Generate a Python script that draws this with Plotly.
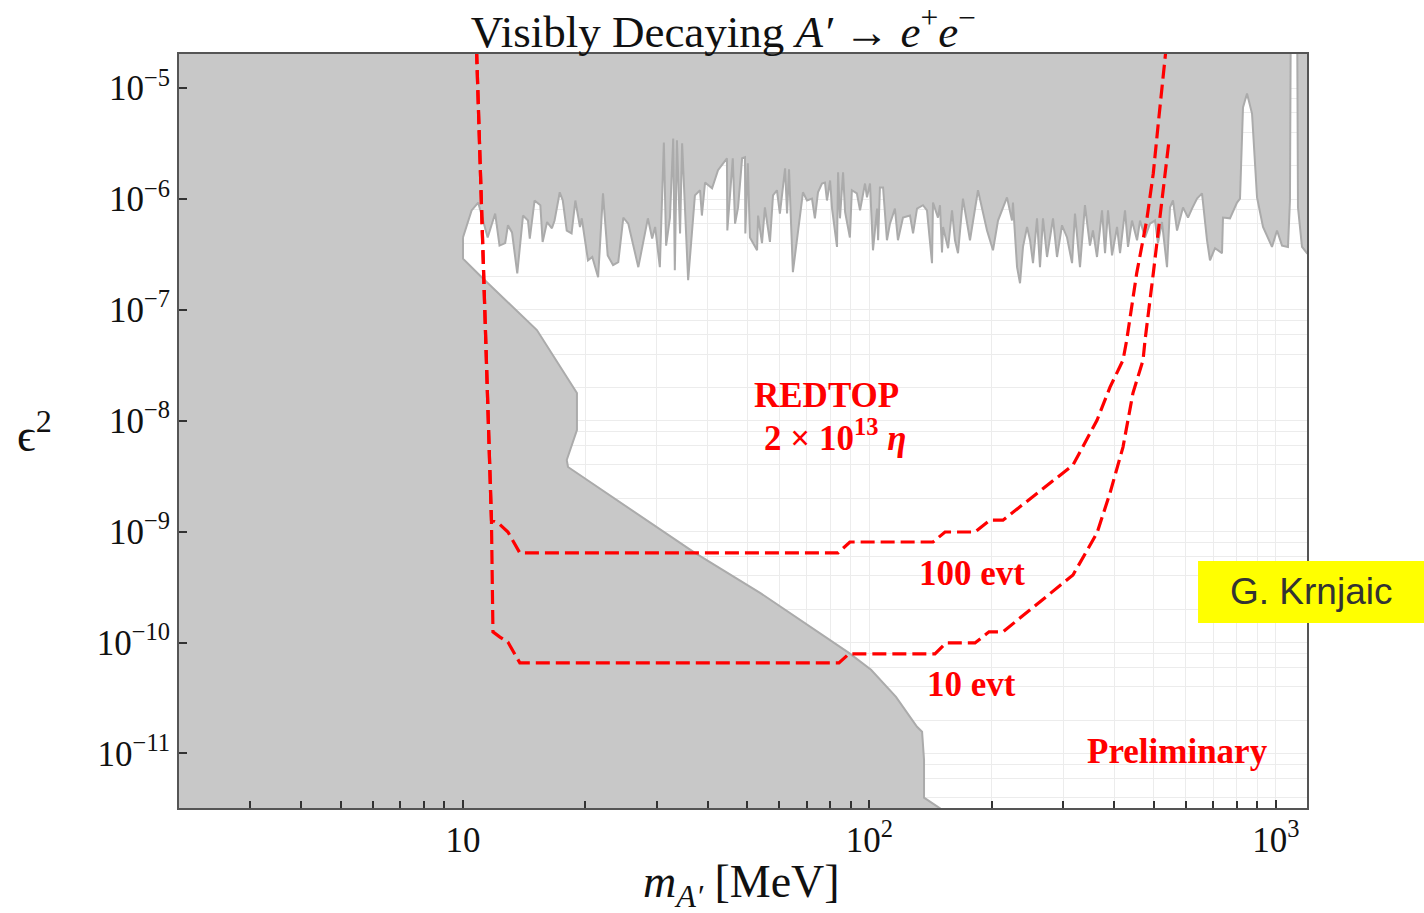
import plotly.graph_objects as go

# ---------------- data ----------------
# upper exclusion boundary (collider / fixed-target bump hunts), left -> right
jag_mass = [10.0, 10.5, 10.9, 11.5, 12.0, 12.3, 12.7, 12.9, 13.2, 13.6, 14.05, 14.45, 14.6, 15.0, 15.5,
            15.7, 16.1, 16.55, 16.8, 17.3, 17.6, 18.0, 18.5, 18.9, 19.4, 19.6, 20.3, 20.8, 21.5, 22.1,
            22.7, 23.4, 24.1, 24.8, 25.5, 27.0, 28.5, 29.2, 29.7, 30.5, 31.2, 31.6, 32.3, 32.9, 33.2,
            33.6, 34.2, 34.6, 35.8, 37.2, 38.3, 38.7, 39.4, 41.0, 42.4, 44.6, 44.7, 46.1, 46.7, 47.5,
            48.6, 49.4, 49.5, 50.2, 50.8, 52.9, 53.2, 54.4, 55.3, 56.9, 57.9, 59.2, 60.2, 62.0, 62.7,
            63.4, 64.8, 68.6, 70.2, 72.2, 73.4, 74.7, 76.4, 77.7, 78.6, 80.0, 80.9, 83.2, 83.7, 84.6,
            86.1, 87.1, 89.5, 90.5, 93.1, 94.8, 97.5, 98.6, 100.3, 102.0, 104.4, 105.0, 106.1, 108.0,
            110.4, 112.3, 115.5, 117.5, 120.9, 125.8, 128.0, 130.9, 135.4, 138.5, 142.5, 143.3, 147.4,
            149.1, 150.8, 151.7, 156.1, 159.6, 162.3, 165.1, 169.8, 176.7, 184.9, 194.6, 201.3, 207.1,
            217.9, 224.2, 225.4, 230.7, 234.6, 238.6, 244.1, 248.3, 252.5, 258.3, 262.7, 267.2, 273.4,
            278.0, 282.8, 289.3, 297.6, 306.2, 315.0, 320.3, 329.5, 338.9, 348.6, 354.6, 362.8, 373.3,
            379.7, 386.2, 395.1, 406.4, 413.4, 425.2, 432.5, 442.4, 455.2, 463.0, 476.3, 489.8, 503.9,
            512.5, 524.3, 539.4, 548.6, 558.0, 570.9, 590.6, 607.6, 621.5, 639.4, 657.7, 676.6, 688.1,
            707.9, 736.6, 740.7, 770.6, 801.9, 815.6, 829.6, 848.7, 873.1, 898.2, 929.2, 977.7, 1005.8,
            1034.7, 1070.3, 1082.4, 1088.6, 1126.3, 1132.7, 1158.8, 1192.0]
jag_eps2 = [4.5e-7, 7.9e-7, 9.3e-7, 4.5e-7, 7.4e-7, 3.8e-7, 4.0e-7, 5.8e-7, 5.0e-7, 2.14e-7, 7.1e-7,
            6.4e-7, 4.4e-7, 9.7e-7, 8.8e-7, 4.1e-7, 6.2e-7, 5.45e-7, 6.4e-7, 1.15e-6, 9.7e-7, 5.2e-7,
            4.9e-7, 9.7e-7, 5.6e-7, 6.7e-7, 2.8e-7, 3.0e-7, 1.97e-7, 1.125e-6, 3.1e-7, 2.53e-7, 2.7e-7,
            6.8e-7, 6.0e-7, 2.43e-7, 6.7e-7, 4.4e-7, 5.6e-7, 2.43e-7, 3.24e-6, 3.8e-7, 6.8e-7, 3.52e-6,
            2.28e-7, 3.38e-6, 4.9e-7, 3.18e-6, 1.85e-7, 1.08e-6, 1.2e-6, 7.1e-7, 1.41e-6, 1.25e-6,
            1.82e-6, 2.33e-6, 5.2e-7, 2.33e-6, 6.0e-7, 8.4e-7, 2.33e-6, 2.38e-6, 4.9e-7, 2.1e-6, 4.5e-7,
            3.45e-7, 7.1e-7, 4.0e-7, 8.4e-7, 4.1e-7, 1.08e-6, 1.2e-6, 7.4e-7, 1.89e-6, 7.4e-7, 1.85e-6,
            2.19e-7, 1.15e-6, 9.7e-7, 1.01e-6, 6.7e-7, 1.15e-6, 1.38e-6, 1.41e-6, 9.7e-7, 1.47e-6, 8.2e-7,
            3.7e-7, 1.74e-6, 6.7e-7, 1.74e-6, 7.6e-7, 4.5e-7, 1.2e-6, 1.125e-6, 7.9e-7, 1.38e-6, 1.035e-6,
            1.38e-6, 3.45e-7, 8.2e-7, 4.25e-7, 1.27e-6, 1.27e-6, 4.25e-7, 6.0e-7, 8.2e-7, 4.25e-7, 6.8e-7,
            7.1e-7, 4.9e-7, 8.2e-7, 8.8e-7, 7.9e-7, 2.64e-7, 9.3e-7, 6.8e-7, 8.8e-7, 3.3e-7, 5.6e-7,
            3.6e-7, 7.9e-7, 4.25e-7, 3.25e-7, 1.01e-6, 4.25e-7, 1.2e-6, 5.2e-7, 3.45e-7, 6.4e-7, 1.035e-6,
            6.4e-7, 9.3e-7, 2.43e-7, 1.74e-7, 3.7e-7, 5.6e-7, 4.25e-7, 2.64e-7, 6.7e-7, 2.43e-7, 6.7e-7,
            3.0e-7, 4.5e-7, 6.7e-7, 3.0e-7, 5.8e-7, 4.5e-7, 2.64e-7, 7.4e-7, 2.43e-7, 8.8e-7, 3.8e-7,
            5.2e-7, 3.0e-7, 7.9e-7, 3.25e-7, 7.9e-7, 3.1e-7, 5.6e-7, 3.25e-7, 7.9e-7, 3.7e-7, 6.4e-7,
            4.25e-7, 6.4e-7, 4.5e-7, 6.0e-7, 6.4e-7, 4.0e-7, 6.2e-7, 2.43e-7, 8.4e-7, 9.7e-7, 5.2e-7,
            8.4e-7, 6.8e-7, 8.2e-7, 1.01e-6, 1.125e-6, 4.25e-7, 2.8e-7, 3.6e-7, 3.25e-7, 6.8e-7, 6.7e-7,
            9.3e-7, 1.01e-6, 6.7e-6, 8.96e-6, 5.9e-6, 1.035e-6, 5.6e-7, 3.7e-7, 5.2e-7, 3.8e-7, 3.7e-7,
            9.7e-7, 1.0e-4, 1.0e-4, 8.4e-7, 3.7e-7, 3.25e-7]

# lower-left exclusion boundary (beam dumps / supernova), top -> bottom
bd_mass = [10.0, 11.07, 15.2, 19.07, 19.07, 18.0, 18.13, 37.2, 53.8, 89.0, 100.9, 116.2, 130.9,
           134.7, 136.2, 136.2, 149.1]
bd_eps2 = [2.9e-7, 2.0e-7, 6.58e-8, 1.78e-8, 8.24e-9, 4.43e-9, 3.83e-9, 6.43e-10, 2.81e-10, 8.07e-11,
           5.68e-11, 3.24e-11, 1.74e-11, 1.57e-11, 8.77e-12, 3.99e-12, 3.2e-12]

# REDTOP projections
r100_mass = [10.8, 11.75, 12.2, 12.9, 13.8, 83.7, 89.5, 143.3, 153.4, 181.8, 197.9, 213.0, 316.7,
             362.8, 390.6, 420.4, 429.3, 454.3, 480.8, 499.1, 513.4, 536.0]
r100_eps2 = [2.2e-5, 1.27e-9, 1.20e-9, 9.93e-10, 6.43e-10, 6.43e-10, 8.07e-10, 8.07e-10, 9.93e-10,
             9.93e-10, 1.27e-9, 1.27e-9, 3.99e-9, 1.01e-8, 2.01e-8, 3.52e-8, 5.33e-8, 2.14e-7,
             6.43e-7, 1.71e-6, 4.81e-6, 2.2e-5]
r10_mass = [10.8, 11.75, 11.85, 12.33, 12.9, 13.8, 84.1, 89.0, 144.9, 154.2, 181.8, 196.8, 213.0,
            316.7, 362.8, 390.6, 420.4, 444.8, 470.9, 476.3, 499.1, 518.4, 533.3, 546.4]
r10_eps2 = [2.2e-5, 1.27e-9, 1.25e-10, 1.12e-10, 1.01e-10, 6.56e-11, 6.56e-11, 7.91e-11, 7.91e-11,
            9.93e-11, 9.93e-11, 1.25e-10, 1.25e-10, 4.07e-10, 9.73e-10, 2.23e-9, 5.79e-9, 1.78e-8,
            3.52e-8, 5.33e-8, 2.14e-7, 6.84e-7, 1.71e-6, 3.52e-6]

x_major = [10, 100, 1000]
x_major_text = ["10", "10<sup>2</sup>", "10<sup>3</sup>"]
x_minor = [3, 4, 5, 6, 7, 8, 9, 20, 30, 40, 50, 60, 70, 80, 90,
           200, 300, 400, 500, 600, 700, 800, 900]
y_major = [1e-11, 1e-10, 1e-9, 1e-8, 1e-7, 1e-6, 1e-5]
y_major_text = ["10<sup>−11</sup>", "10<sup>−10</sup>", "10<sup>−9</sup>", "10<sup>−8</sup>",
                "10<sup>−7</sup>", "10<sup>−6</sup>", "10<sup>−5</sup>"]
y_minor_mant = [2, 4, 6, 8]
y_minor_exp = [-12, -11, -10, -9, -8, -7, -6, -5]

# ---------------- figure ----------------
GRAY = "#c8c8c8"
EDGE = "#ababab"
RED = "#ff0000"
SERIF = "Liberation Serif, Times New Roman, serif"

# excluded region polygon: upper boundary, frame corners outside the view, lower boundary
poly_x = jag_mass + [1500, 1500, 1, 1, 160] + bd_mass[::-1] + [jag_mass[0]]
poly_y = jag_eps2 + [jag_eps2[-1], 1e-3, 1e-3, 1e-14, 1e-14] + bd_eps2[::-1] + [jag_eps2[0]]

fig = go.Figure()
fig.add_trace(go.Scatter(x=poly_x, y=poly_y, mode="lines", fill="toself", fillcolor=GRAY,
                         line=dict(color=EDGE, width=2), hoverinfo="skip", showlegend=False))
fig.add_trace(go.Scatter(x=r100_mass, y=r100_eps2, mode="lines",
                         line=dict(color=RED, width=3.2, dash="14px,6px"), showlegend=False))
fig.add_trace(go.Scatter(x=r10_mass, y=r10_eps2, mode="lines",
                         line=dict(color=RED, width=3.2, dash="14px,6px"), showlegend=False))

axis_common = dict(showline=True, linecolor="#555555", linewidth=2, mirror=True,
                   ticks="inside", ticklen=8, tickwidth=1.5, tickcolor="#333333",
                   showgrid=True, gridcolor="#ececec", gridwidth=1, zeroline=False,
                   tickfont=dict(family=SERIF, size=35, color="#111111"))

fig.update_xaxes(type="log", range=[0.3014, 3.0763], tickmode="array",
                 tickvals=x_major, ticktext=x_major_text,
                 minor=dict(tickmode="array", tickvals=x_minor, ticks="inside", ticklen=7,
                            tickwidth=1.5, tickcolor="#333333", showgrid=True,
                            gridcolor="#ececec", gridwidth=1),
                 **axis_common)
fig.update_yaxes(type="log", range=[-11.492, -4.692], tickmode="array",
                 tickvals=y_major, ticktext=y_major_text,
                 minor=dict(tickmode="array",
                            tickvals=[m * 10.0 ** e for e in y_minor_exp for m in y_minor_mant],
                            ticks="", showgrid=True, gridcolor="#ececec", gridwidth=1),
                 **axis_common)

def ann(text, x, y, size, color=RED, family=SERIF, **kw):
    fig.add_annotation(text=text, x=x, y=y, xref="paper", yref="paper", showarrow=False,
                       xanchor="center", yanchor="middle",
                       font=dict(family=family, size=size, color=color), **kw)

ann("<b>REDTOP</b>", 0.5736, 0.5476, 35)
ann("<b>2 × 10<sup>13</sup> <i>η</i></b>", 0.5816, 0.4946, 35)
ann("<b>100 evt</b>", 0.703, 0.3104, 35)
ann("<b>10 evt</b>", 0.703, 0.1634, 35)
ann("<b>Preliminary</b>", 0.8856, 0.0746, 35)

# axis titles
ann("ϵ<sup>2</sup>", -0.1277, 0.4985, 46, color="#111111")
ann("<i>m</i><sub><i>A′</i></sub> [MeV]", 0.4991, -0.1016, 46, color="#111111")

# author tag
fig.add_shape(type="rect", xref="paper", yref="paper", x0=0.9034, x1=1.11, y0=0.2455, y1=0.3276,
              fillcolor="#ffff00", line=dict(width=0), layer="above")
ann("G. Krnjaic", 1.0035, 0.2866, 37, color="#333333",
    family="Liberation Sans, Arial, sans-serif")

fig.update_layout(
    width=1424, height=913,
    margin=dict(l=179, r=117, t=54, b=105),
    paper_bgcolor="white", plot_bgcolor="white",
    title=dict(text="Visibly Decaying <i>A′</i> → <i>e</i><sup>+</sup><i>e</i><sup>−</sup>",
               x=0.508, xanchor="center", y=0.966, yanchor="middle",
               font=dict(family=SERIF, size=45, color="#111111")),
    showlegend=False,
)

fig.write_html("out.html", config={"displayModeBar": False},
               post_script="document.body.style.margin='0px';document.body.style.overflow='hidden';")
